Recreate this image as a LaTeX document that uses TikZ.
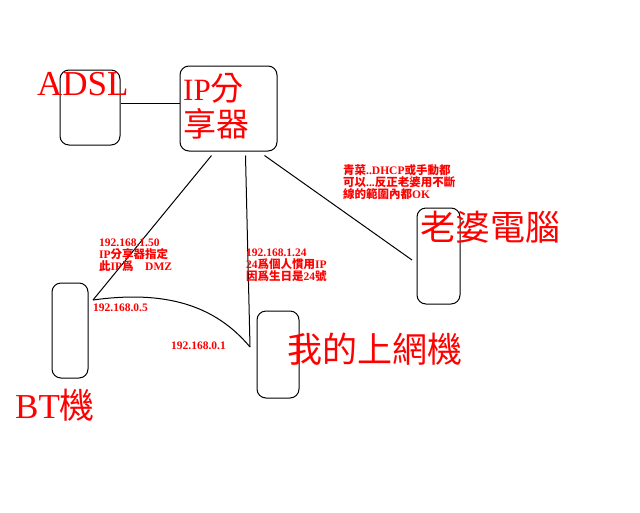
\documentclass[tikz,border=0pt]{standalone}
\usepackage{fontspec}
\setmainfont{Liberation Serif}
\newfontfamily\cjk{Noto Sans CJK TC}
\usetikzlibrary{positioning}

\begin{document}
\begin{tikzpicture}[x=1pt,y=-1pt,
    box/.style={draw,line width=1pt,rounded corners=9pt,inner sep=0pt},
    bigtxt/.style={text=red,inner sep=0pt,anchor=base west,font=\fontsize{35}{35}\selectfont},
    smalltxt/.style={text=red,inner sep=0pt,anchor=north west,align=left,font=\bfseries\fontsize{11.5}{12}\selectfont}]
    \useasboundingbox (0.000000,0.000000) rectangle (640.000000,512.000000);

    % Marking boxes
    \node [box,minimum width=60,minimum height=75] (adsl) at (90.000000,107.500000) {};%
    \node [box,minimum width=97,minimum height=85] (ip) at (228.500000,108.500000) {};%
    \node [box,minimum width=43,minimum height=96] (wife) at (438.500000,256.000000) {};%
    \node [box,minimum width=42,minimum height=87] (mine) at (278.000000,354.500000) {};%
    \node [box,minimum width=36,minimum height=95] (bt) at (70.000000,330.500000) {};%

    % Marking big labels
    \node [bigtxt] (adsllbl) at (37.000000,95.000000) {ADSL};%
    \node [bigtxt,anchor=north west,align=left,font=\fontsize{33}{36}\selectfont] (iplbl) at (183.000000,73.000000) {{\fontsize{31}{36}\selectfont IP}{\cjk 分}\\{\cjk 享器}};%
    \node [bigtxt] (wifelbl) at (420.000000,240.000000) {\cjk 老婆電腦};%
    \node [bigtxt] (minelbl) at (287.000000,362.000000) {\cjk 我的上網機};%
    \node [bigtxt] (btlbl) at (15.000000,418.000000) {BT{\cjk 機}};%

    % Marking free ends of connectors
    \coordinate (btend) at (93.000000,300.000000);%
    \coordinate (mineend) at (250.000000,347.000000);%
    \coordinate (wifeend) at (412.000000,260.000000);%

    % Drawing connectors
    \draw [line width=1pt] ([yshift=4.5pt]adsl.east) -- ([yshift=5.5pt]ip.west);%
    \draw [line width=1pt] ([xshift=-17pt,yshift=-4pt]ip.south) -- (btend);%
    \draw [line width=1pt] ([xshift=17pt,yshift=-4pt]ip.south) -- (mineend);%
    \draw [line width=1pt] ([xshift=36pt,yshift=-4pt]ip.south) -- (wifeend);%
    \draw [line width=1pt] (btend) .. controls (165.000000,290.000000) and (215.000000,305.000000) .. (mineend);%

    % Marking small notes
    \node [smalltxt] (wifenote) at (343.000000,164.000000) {{\cjk 青菜}..DHCP{\cjk 或手動都}\\{\cjk 可以}...{\cjk 反正老婆用不斷}\\{\cjk 線的範圍內都}OK};%
    \node [smalltxt] (btnote) at (99.000000,239.000000) {192.168.1.50\\IP{\cjk 分享器指定}\\{\cjk 此}IP{\cjk 爲}\quad DMZ};%
    \node [smalltxt] (btip) at (93.000000,304.000000) {192.168.0.5};%
    \node [smalltxt] (minenote) at (246.000000,249.000000) {192.168.1.24\\24{\cjk 爲個人慣用}IP\\{\cjk 因爲生日是}24{\cjk 號}};%
    \node [smalltxt] (mineip) at (171.000000,342.000000) {192.168.0.1};%
\end{tikzpicture}
\end{document}
